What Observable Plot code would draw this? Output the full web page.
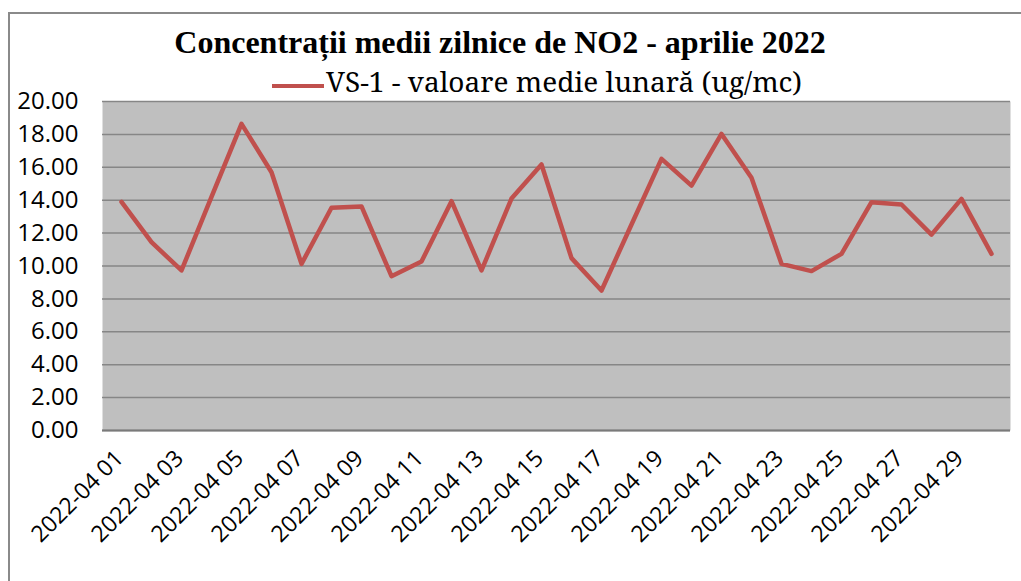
<!DOCTYPE html>
<html><head><meta charset="utf-8">
<script src="https://cdn.jsdelivr.net/npm/d3@7"></script>
<script src="https://cdn.jsdelivr.net/npm/@observablehq/plot@0.6"></script>
<style>
html,body{margin:0;padding:0;background:#fff;overflow:hidden;width:1021px;height:581px;position:relative;}
#frame{position:absolute;left:8px;top:12px;width:1100px;height:700px;border:2px solid #8a8a8a;box-sizing:border-box;}
#chart{position:absolute;left:0;top:0;}
#title{position:absolute;left:0;top:26px;width:1000px;text-align:center;font-family:"Liberation Serif","Times New Roman",serif;font-weight:bold;font-size:32px;line-height:32px;color:#000;white-space:nowrap;z-index:2;}
#legend-line{position:absolute;left:272px;top:84px;width:52px;height:4px;background:#c0504d;z-index:2;}
#legend-text{position:absolute;left:326px;top:67px;font-family:"Noto Serif","Liberation Serif",serif;font-size:28px;line-height:28px;color:#000;white-space:nowrap;z-index:2;}
</style>
</head><body>
<div id="frame"></div>
<div id="chart"></div>
<div id="title">Concentrații  medii zilnice de NO2 - aprilie 2022</div>
<div id="legend-line"></div>
<div id="legend-text">VS-1 - valoare medie lunară (ug/mc)</div>
<script>
const days = ["2022-04 01","2022-04 02","2022-04 03","2022-04 04","2022-04 05","2022-04 06","2022-04 07","2022-04 08","2022-04 09","2022-04 10",
  "2022-04 11","2022-04 12","2022-04 13","2022-04 14","2022-04 15","2022-04 16","2022-04 17","2022-04 18","2022-04 19","2022-04 20",
  "2022-04 21","2022-04 22","2022-04 23","2022-04 24","2022-04 25","2022-04 26","2022-04 27","2022-04 28","2022-04 29","2022-04 30"];
const no2 = [13.90, 11.45, 9.73, 14.20, 18.64, 15.70, 10.13, 13.54, 13.62, 9.38,
  10.27, 13.94, 9.73, 14.10, 16.17, 10.48, 8.51, 12.52, 16.51, 14.89,
  18.03, 15.36, 10.13, 9.69, 10.74, 13.88, 13.74, 11.91, 14.08, 10.74];
const yTicks = [0, 2, 4, 6, 8, 10, 12, 14, 16, 18, 20];
const xTickLabels = ["2022-04 01","2022-04 03","2022-04 05","2022-04 07","2022-04 09","2022-04 11","2022-04 13","2022-04 15",
  "2022-04 17","2022-04 19","2022-04 21","2022-04 23","2022-04 25","2022-04 27","2022-04 29"];

const rows = days.map((d, i) => ({day: d, value: no2[i]}));

const chart = Plot.plot({
  width: 1021,
  height: 581,
  marginLeft: 102,
  marginRight: 11,
  marginTop: 101,
  marginBottom: 151,
  style: {fontFamily: "'Open Sans', sans-serif", color: "#000", background: "transparent"},
  x: {type: "point", domain: days, padding: 0.5, label: null},
  y: {domain: [0, 20], label: null},
  marks: [
    Plot.frame({fill: "#bfbfbf", stroke: "none"}),
    Plot.ruleY(yTicks, {stroke: "#868686", strokeWidth: 1.5}),
    Plot.ruleY([0], {stroke: "#7a7a7a", strokeWidth: 2}),
    Plot.axisY(yTicks, {tickSize: 0, tickPadding: 24, tickFormat: d => d.toFixed(2), fontSize: 24, label: null}),
    Plot.axisX(xTickLabels, {tickSize: 0, tickPadding: 24, dx: -2, tickRotate: -45, fontSize: 23, label: null}),
    Plot.line(rows, {x: "day", y: "value", stroke: "#c0504d", strokeWidth: 4.5, strokeLinejoin: "round", strokeLinecap: "round"})
  ]
});
document.getElementById("chart").appendChild(chart);
</script>
</body></html>
